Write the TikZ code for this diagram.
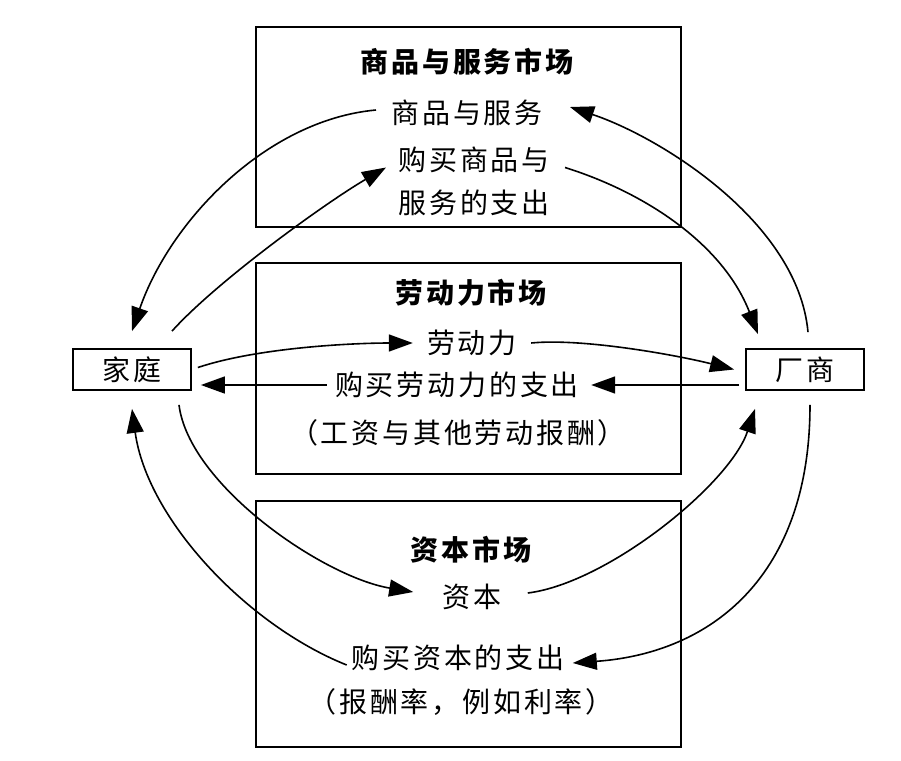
\documentclass[tikz,border=0pt]{standalone}
\usepackage{fontspec}
\setmainfont{Noto Sans CJK SC}[LetterSpace=10]
\usetikzlibrary{calc,positioning,arrows.meta}

\begin{document}
\begin{tikzpicture}[x=0.5pt,y=-0.5pt,
  mkt/.style={draw, line width=0.9pt},
  lbl/.style={inner sep=4pt, font=\fontsize{14pt}{21.5pt}\selectfont, align=center},
  ttl/.style={lbl, font=\fontsize{14pt}{21.5pt}\selectfont\bfseries},
  agt/.style={lbl, draw, line width=0.9pt, minimum width=59pt, minimum height=20.5pt, inner sep=0pt},
  flow/.style={line width=0.8pt, -{Triangle[length=12pt,width=8.5pt]}}]
\useasboundingbox (0,0) rectangle (901,761);
\foreach \t/\b in {27/227,263/474,501/747}{\draw[mkt] (256,\t) rectangle (681,\b);}
\node[agt] (home) at (132,369.5) {家庭};
\node[agt] (firm) at (805,369.5) {厂商};
\node[ttl] (gtitle) at (467,62) {商品与服务市场};
\node[lbl] (goods) at (467,113) {商品与服务};
\node[lbl] (gspend) at (474,181.5) {购买商品与\\服务的支出};
\node[ttl] (ltitle) at (471,293) {劳动力市场};
\node[lbl] (labor) at (472,343) {劳动力};
\node[lbl] (lspend) at (457,385) {购买劳动力的支出};
\node[lbl] (wage) at (458,433) {（工资与其他劳动报酬）};
\node[ttl] (ctitle) at (471,550) {资本市场};
\node[lbl] (capital) at (472,597) {资本};
\node[lbl] (cspend) at (458,658) {购买资本的支出};
\node[lbl] (rate) at (461,702) {（报酬率，例如利率）};
\draw[flow] ([shift={(-7,-3)}]goods.west) .. controls +(-110,10) and +(38,-110) .. ([shift={(0,-17)}]home.north);
\draw[flow] ([shift={(40,-17)}]home.north) .. controls +(45,-50) and +(-60,35) .. ([shift={(-4,-14)}]gspend.west);
\draw[flow] ([shift={(3,-16)}]firm.north) .. controls +(-10,-110) and +(90,30) .. ([shift={(19,-6)}]goods.east);
\draw[flow] ([shift={(7,-14)}]gspend.east) .. controls +(80,25) and +(-35,-90) .. ([shift={(-47,-14)}]firm.north);
\draw[flow] ([shift={(6,-2)}]home.east) .. controls +(60,-20) and +(-60,0) .. ([shift={(-6,0)}]labor.west);
\draw[flow] ([shift={(6,0)}]labor.east) .. controls +(50,-5) and +(-60,-15) .. ([shift={(-11,0)}]firm.west);
\draw[flow] ([shift={(-6,0)}]firm.west |- lspend) -- ([shift={(4,0)}]lspend.east);
\draw[flow] (lspend.west) -- ([shift={(9,0)}]home.east |- lspend);
\draw[flow] ([shift={(47,14)}]home.south) .. controls +(10,80) and +(-90,-15) .. ([shift={(-21,-5)}]capital.west);
\draw[flow] ([shift={(18,-4)}]capital.east) .. controls +(80,-10) and +(-25,75) .. ([shift={(-50,18)}]firm.south);
\draw[flow] ([shift={(5,14)}]firm.south) .. controls +(0,170) and +(140,-10) .. ([shift={(0,5)}]cspend.east);
\draw[flow] ([shift={(3.5,7)}]cspend.west) .. controls +(-100,-40) and +(15,110) .. ([shift={(0,18)}]home.south);
\end{tikzpicture}
\end{document}
